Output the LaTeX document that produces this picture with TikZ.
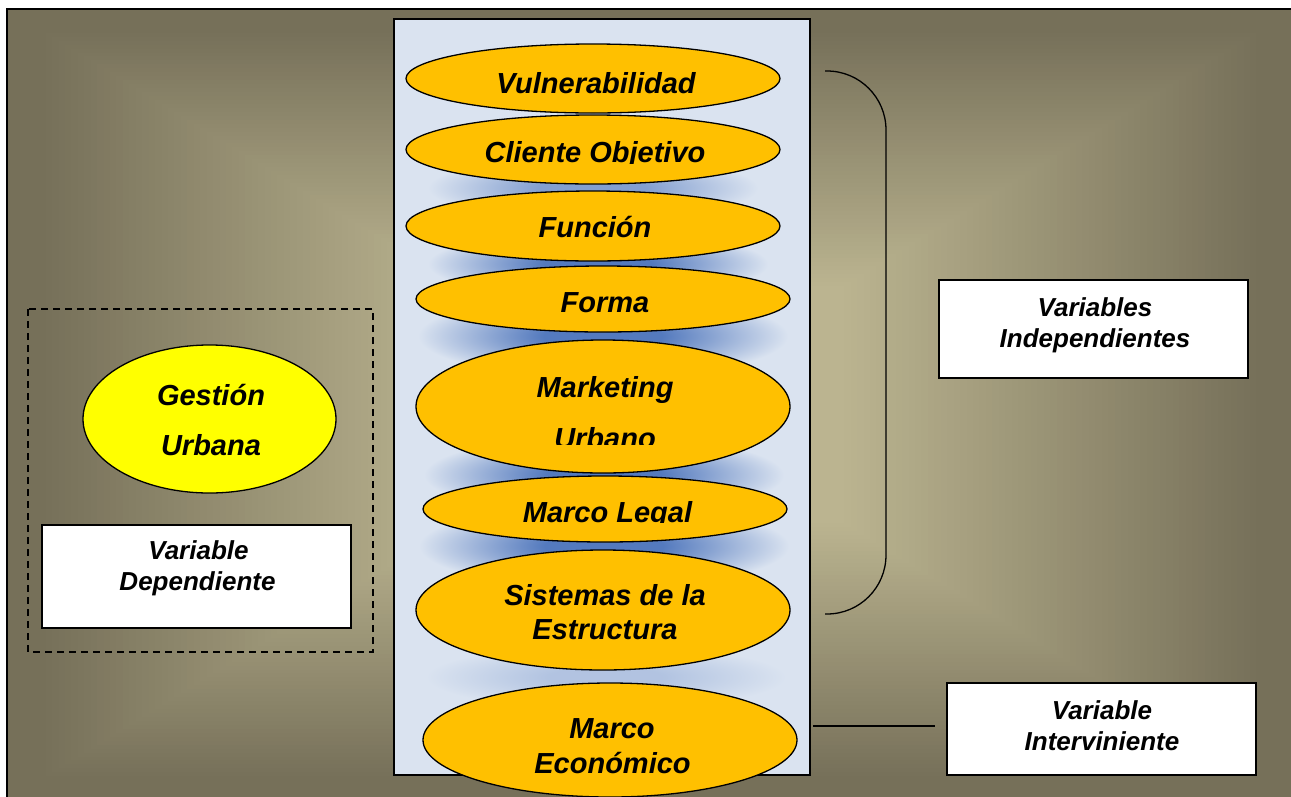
\documentclass[tikz,border=0pt]{standalone}
\usepackage{fontspec}
\setmainfont{Liberation Sans}
\usetikzlibrary{shapes.geometric}
\definecolor{bglight}{RGB}{187,180,144}
\definecolor{bgdark}{RGB}{118,112,89}
\definecolor{colbg}{RGB}{218,227,240}
\definecolor{glowc}{RGB}{84,122,190}
\colorlet{glowmid}{glowc!65!colbg}
\colorlet{glowlow}{glowc!30!colbg}
\definecolor{orangefill}{RGB}{255,192,0}
\definecolor{yellowfill}{RGB}{255,255,0}
\pgfdeclareradialshading{glowhi}{\pgfpointorigin}{color(0bp)=(glowc); color(8bp)=(glowc); color(25bp)=(colbg); color(50bp)=(colbg)}
\pgfdeclareradialshading{glowmd}{\pgfpointorigin}{color(0bp)=(glowmid); color(8bp)=(glowmid); color(25bp)=(colbg); color(50bp)=(colbg)}
\pgfdeclareradialshading{glowlo}{\pgfpointorigin}{color(0bp)=(glowlow); color(8bp)=(glowlow); color(25bp)=(colbg); color(50bp)=(colbg)}
\tikzset{
  oval/.style={ellipse, draw=black, line width=1.3pt, fill=orangefill, inner sep=0pt},
  etext/.style={font=\fontsize{29}{29}\selectfont\bfseries\itshape, inner sep=0pt, anchor=base},
  btext/.style={font=\fontsize{26}{26}\selectfont\bfseries\itshape, inner sep=0pt, anchor=base},
  wbox/.style={draw=black, line width=1.6pt, fill=white, inner sep=0pt, minimum width=309pt},
  colbox/.style={draw=black, line width=1.5pt, fill=colbg, inner sep=0pt}
}
\begin{document}
\begin{tikzpicture}[x=1pt,y=-1pt]
\useasboundingbox (0,0) rectangle (1291,796);
% background: rectangular gradient from centre (concentric steps)
\coordinate (bgtl) at (7,9);
\coordinate (bgtr) at (1300,9);
\coordinate (bgbl) at (7,805);
\foreach \i in {0,...,70} {
  \pgfmathsetmacro{\tv}{1-\i/100}
  \pgfmathsetmacro{\pv}{min(100,max(0,(0.95-\tv)/0.65*100))}
  \fill[bglight!\pv!bgdark] (651-644*\tv, 404.5-395.5*\tv) rectangle (651+644*\tv, 404.5+395.5*\tv);
}
\fill[bgdark] (1295,9) rectangle (1300,805);
\fill[bgdark] (7,800) rectangle (1300,805);
\draw[line width=1.6pt] (bgbl) -- (bgtl) -- (bgtr);
% central column
\node[colbox, minimum width=416pt, minimum height=756pt] (col) at (602,397) {};
\begin{scope}
\clip (394,19) rectangle (810,775);
\shade[shading=glowmd] (593,188) ellipse [x radius=165pt, y radius=32pt];
\shade[shading=glowhi] (598,264) ellipse [x radius=170pt, y radius=34pt];
\shade[shading=glowhi] (603,336) ellipse [x radius=185pt, y radius=42pt];
\shade[shading=glowhi] (604,475) ellipse [x radius=180pt, y radius=40pt];
\shade[shading=glowhi] (604,546) ellipse [x radius=185pt, y radius=42pt];
\shade[shading=glowlo] (606,677) ellipse [x radius=180pt, y radius=32pt];
\end{scope}
% ellipses
\node[oval, minimum width=374pt, minimum height=69pt] (vul) at (593,78.5) {};
\node[oval, minimum width=374pt, minimum height=69pt] (cli) at (593,149.5) {};
\node[oval, minimum width=374pt, minimum height=70pt] (fun) at (593,226) {};
\node[oval, minimum width=374pt, minimum height=66pt] (for) at (603,299) {};
\node[oval, minimum width=374pt, minimum height=133pt] (mar) at (603,406.5) {};
\node[oval, minimum width=364pt, minimum height=66pt] (leg) at (605,509) {};
\node[oval, minimum width=374pt, minimum height=120pt] (sis) at (603,610) {};
\node[oval, minimum width=374pt, minimum height=114pt] (eco) at (610,740) {};
% ellipse texts
\node[etext] (tvul) at (596,93) {Vulnerabilidad};
\begin{scope}
\clip (400,100) rectangle (800,163.6);
\node[etext] (tcli) at (595,162.8) {Cliente Objetivo};
\end{scope}
\node[etext] (tfun) at (595,237) {Función};
\begin{scope}
\clip (400,270) rectangle (800,312.6);
\node[etext] (tfor) at (605,312) {Forma};
\end{scope}
\node[etext] (tmar1) at (605,397) {Marketing};
\begin{scope}
\clip (400,410) rectangle (800,444.6);
\node[etext] (tmar2) at (605,448) {Urbano};
\end{scope}
\begin{scope}
\clip (400,480) rectangle (800,522.4);
\node[etext] (tleg) at (607.5,522) {Marco Legal};
\end{scope}
\node[etext] (tsis1) at (605,605) {Sistemas de la};
\node[etext] (tsis2) at (605,639) {Estructura};
\node[etext] (teco1) at (612,738) {Marco};
\node[etext] (teco2) at (612.5,773) {Económico};
% left: dependent variable
\draw[line width=1.2pt, dash pattern=on 7pt off 5pt] (28,309) rectangle (373,652);
\node[oval, fill=yellowfill, minimum width=253pt, minimum height=148pt] (ges) at (209.5,419) {};
\node[etext] (tges1) at (211,405) {Gestión};
\node[etext] (tges2) at (211,455) {Urbana};
\node[wbox, minimum height=103pt] (bdep) at (196.5,576.5) {};
\node[btext] (tdep1) at (198.5,559) {Variable};
\node[btext] (tdep2) at (197.5,590) {Dependiente};
% right: independent variables
\coordinate (bt) at (825,71);
\coordinate (bb) at (825,614);
\draw[line width=1.3pt, rounded corners=59pt] (bt) -- (886,71) -- (886,614) -- (bb);
\node[wbox, minimum height=98pt] (bind) at (1093.5,329) {};
\node[btext] (tind1) at (1095,316) {Variables};
\node[btext] (tind2) at (1095,347) {Independientes};
% intervening variable
\coordinate (l1) at (813,726);
\coordinate (l2) at (935,726);
\draw[line width=1.3pt] (l1) -- (l2);
\node[wbox, minimum height=92pt] (bint) at (1101.5,729) {};
\node[btext] (tint1) at (1102,719) {Variable};
\node[btext] (tint2) at (1102,750) {Interviniente};
\end{tikzpicture}
\end{document}
